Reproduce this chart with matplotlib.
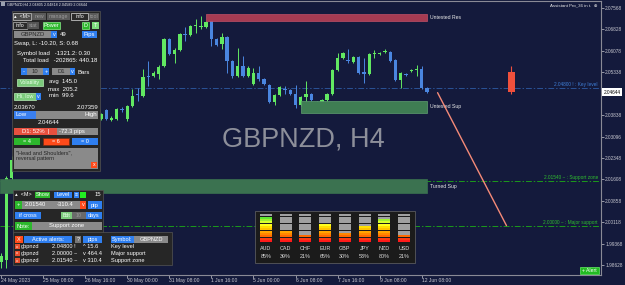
import numpy as np
import matplotlib
matplotlib.use("Agg")
import matplotlib.pyplot as plt
from matplotlib.patches import Rectangle
from matplotlib.transforms import blended_transform_factory

plt.rcParams['font.family'] = ['Liberation Sans', 'DejaVu Sans']

nan = np.nan
# ---------------- data ----------------
opens = [1.98732, 1.98802, 2.01643] + [nan] * 16 + [
    2.03722, 2.04034, 2.03687, 2.03722, 2.04068, 2.03722, 2.04172, 2.04571, 2.04519, 2.05212,
    2.05212, 2.05281, 2.05558, 2.06494, 2.05974, 2.06113, 2.06667, 2.06633, 2.06927, 2.06910,
    2.06910, 2.07118, 2.06494, 2.06321, 2.06563, 2.05732, 2.05212, 2.05558, 2.05212, 2.04935,
    2.05316, 2.05108, 2.04900, 2.04311, 2.04554, 2.04744, 2.04727, 2.04588, 2.04207, 2.04484,
    2.04588, 2.04294, 2.04276, 2.04380, 2.04588, 2.05420, 2.05836, 2.05749, 2.05697, 2.05870,
    2.05350, 2.05281, 2.05957, 2.05974, 2.06026, 2.06043, 2.05766, 2.05073, 2.05281, 2.05385,
    2.05420, 2.05454, 2.04796]
highs = [1.99044, 2.01712, 2.02405] + [nan] * 16 + [
    2.03930, 2.04068, 2.03826, 2.04103, 2.04138, 2.04207, 2.04761, 2.04796, 2.05454, 2.05732,
    2.05385, 2.05593, 2.06529, 2.06529, 2.06182, 2.06702, 2.06910, 2.06979, 2.07187, 2.07291,
    2.07118, 2.07291, 2.06529, 2.06702, 2.06598, 2.05766, 2.06182, 2.05905, 2.05558, 2.05489,
    2.05558, 2.05143, 2.04935, 2.04588, 2.04865, 2.04865, 2.04761, 2.04900, 2.04519, 2.05039,
    2.04623, 2.04346, 2.04415, 2.04623, 2.05454, 2.06009, 2.06043, 2.06147, 2.05905, 2.05905,
    2.05836, 2.06009, 2.06113, 2.06043, 2.06147, 2.06078, 2.05801, 2.05350, 2.05316, 2.05454,
    2.05593, 2.05558, 2.04831]
lows = [1.98524, 1.98524, 2.01574] + [nan] * 16 + [
    2.03687, 2.03687, 2.03653, 2.03687, 2.03964, 2.03653, 2.04138, 2.04346, 2.04484, 2.04865,
    2.05177, 2.05108, 2.05524, 2.05940, 2.05662, 2.06078, 2.06425, 2.06598, 2.06702, 2.06840,
    2.06875, 2.06251, 2.06251, 2.06147, 2.05316, 2.05143, 2.05177, 2.05177, 2.05177, 2.04900,
    2.05039, 2.04900, 2.04276, 2.04207, 2.04519, 2.04588, 2.04554, 2.04103, 2.04172, 2.04346,
    2.04346, 2.04207, 2.04138, 2.04346, 2.04554, 2.05385, 2.05801, 2.05662, 2.05662, 2.05281,
    2.04969, 2.05247, 2.05836, 2.05940, 2.06009, 2.05697, 2.05039, 2.04796, 2.05212, 2.05350,
    2.05212, 2.04761, 2.04623]
closes = [1.98940, 2.01643, 2.02267] + [nan] * 16 + [
    2.03895, 2.03722, 2.03757, 2.04068, 2.04034, 2.04172, 2.04519, 2.04536, 2.05177, 2.05177,
    2.05316, 2.05524, 2.06494, 2.05974, 2.06113, 2.06667, 2.06633, 2.06944, 2.06962, 2.06944,
    2.07083, 2.06494, 2.06286, 2.06563, 2.05732, 2.05212, 2.05558, 2.05212, 2.05489, 2.05316,
    2.05108, 2.04935, 2.04311, 2.04554, 2.04831, 2.04709, 2.04588, 2.04207, 2.04484, 2.04588,
    2.04380, 2.04276, 2.04380, 2.04588, 2.05420, 2.05836, 2.06009, 2.05714, 2.05870, 2.05316,
    2.05281, 2.05974, 2.05991, 2.06009, 2.06061, 2.05732, 2.05073, 2.05316, 2.05247, 2.05420,
    2.05454, 2.04796, 2.04644]

d1_idx = 97
d1_ohlc = [2.05350, 2.05558, 2.04588, 2.04644]

date_idx = [0, 8, 16, 24, 32, 40, 48, 56, 64, 72, 80]
date_labels = ['24 May 2023', '25 May 08:00', '26 May 16:00', '30 May 00:00', '31 May 08:00',
               '1 Jun 16:00', '5 Jun 00:00', '6 Jun 08:00', '7 Jun 16:00', '9 Jun 08:00',
               '12 Jun 08:00']
price_ticks = [2.07568, 2.06828, 2.06078, 2.05338, 2.03838, 2.03096, 2.02348, 2.01608,
               2.00858, 2.00118, 1.99368, 1.98628]
current_price = 2.04644

zone_names = ['Untested Res', 'Untested Sup', 'Turned Sup']
zone_start = [39.0, 57.0, -0.2]
zone_end = [81.0, 81.0, 81.0]
zone_lo = [2.07100, 2.03930, 2.01123]
zone_hi = [2.07360, 2.04346, 2.01608]

level_prices = [2.04800, 2.01540, 2.00000]
level_marks = ['!', '~', '~']
level_names = ['Key level', 'Support zone', 'Major support']

trend_x = [83.0, 96.1]
trend_y = [2.04623, 2.00000]

currencies = ['AUD', 'CAD', 'CHF', 'EUR', 'GBP', 'JPY', 'NZD', 'USD']
strength = [85, 39, 21, 65, 30, 53, 80, 21]

alert_prices = ['2.04800 !', '2.00000 ~', '2.01540 ~']
alert_dist = ['^ 15.6', 'v 464.4', 'v 310.4']
alert_names = ['Key level', 'Major support', 'Support zone']

# ---------------- figure ----------------
W, H = 625, 285
BG = '#141a3c'
fig = plt.figure(figsize=(W / 100, H / 100), dpi=100, facecolor=BG)
ax = fig.add_axes([0, 10 / H, 601 / W, 274 / H], facecolor=BG)
ax.set_xlim(-0.19, 114.07)
ax.set_ylim(1.98282, 2.07811)

GREEN = '#62e862'
BLUE = '#4a86e0'
for i in range(len(opens)):
    o, h, l, c = opens[i], highs[i], lows[i], closes[i]
    if np.isnan(o):
        continue
    col = GREEN if c >= o else BLUE
    ax.vlines(i, l, h, color=col, lw=0.7, zorder=2)
    body = max(abs(c - o), 0.00012)
    ax.bar(i, body, bottom=min(o, c), width=0.64, color=col, lw=0, zorder=2)

# D1 candle
o, h, l, c = d1_ohlc
ax.vlines(d1_idx, l, h, color='#f0503c', lw=0.8, zorder=2)
ax.bar(d1_idx, o - c, bottom=c, width=1.3, color='#f0503c', lw=0, zorder=2)

# zones
zfc = ['#a63b52', '#3f7d53', '#3b7250']
zec = ['#c05068', '#5f9f70', '#3b7250']
for k in range(3):
    ax.add_patch(Rectangle((zone_start[k], zone_lo[k]), zone_end[k] - zone_start[k],
                           zone_hi[k] - zone_lo[k], fc=zfc[k], ec=zec[k], lw=0.5, zorder=3))
    ax.text(zone_end[k] + 0.6, (zone_lo[k] + zone_hi[k]) / 2, zone_names[k], fontsize=3.7,
            color='#e8e8e8', va='center', ha='left', zorder=4)

# levels
lcol = ['#2a5296', '#1c9a1c', '#1c9a1c']
tcol = ['#3f7fd8', '#2fbf2f', '#2fbf2f']
for k in range(3):
    ax.axhline(level_prices[k], color=lcol[k], lw=0.7, ls=(0, (6, 2, 1.5, 2)), zorder=1.5)
    ax.text(0.995, level_prices[k] + 0.0003,
            f'{level_prices[k]:.5f} {level_marks[k]} : {level_names[k]}',
            transform=blended_transform_factory(ax.transAxes, ax.transData),
            fontsize=3.4, color=tcol[k], ha='right', va='bottom', zorder=4)

# trend line
ax.plot(trend_x, trend_y, color='#f58a78', lw=1.0, zorder=4, solid_capstyle='round')

# watermark
ax.text(303 / 601, 1 - 138 / 274, 'GBPNZD, H4', transform=ax.transAxes, fontsize=19.5,
        color='#8d8f9a', ha='center', va='center', zorder=0.5)

# axes styling
ax.spines['left'].set_visible(False)
for s in ['right', 'bottom', 'top']:
    ax.spines[s].set_color('#8a8a96')
    ax.spines[s].set_linewidth(0.8)
ax.yaxis.tick_right()
ax.set_yticks(price_ticks)
ax.set_yticklabels([f'{p:.5f}' for p in price_ticks])
ax.tick_params(axis='y', labelsize=3.4, colors='#c8c8d0', length=2, width=0.5, pad=1)
ax.set_xticks(date_idx)
ax.set_xticklabels(date_labels)
for lab in ax.get_xticklabels():
    lab.set_ha('left')
ax.tick_params(axis='x', labelsize=3.6, colors='#c8c8d0', length=2, width=0.5, pad=0.5)

ax.text(1.004, current_price, f'{current_price:.5f}',
        transform=blended_transform_factory(ax.transAxes, ax.transData),
        fontsize=3.4, color='#000000', ha='left', va='center',
        bbox=dict(boxstyle='square,pad=0.25', fc='white', ec='none'), clip_on=False, zorder=6)

# ---------------- overlay helpers (pixel layout) ----------------
def fx(x):
    return x / W

def fy(y):
    return 1 - y / H

def rect(x0, y0, x1, y1, fc, ec='none', lw=0.5, z=10):
    fig.add_artist(Rectangle((fx(x0), fy(y1)), (x1 - x0) / W, (y1 - y0) / H,
                             transform=fig.transFigure, fc=fc, ec=ec, lw=lw, zorder=z))

def txt(x, y, s, size=4.5, color='white', ha='left', va='center', z=12, **kw):
    fig.text(fx(x), fy(y), s, fontsize=size, color=color, ha=ha, va=va, zorder=z, **kw)

def btn(x0, y0, x1, y1, s, fc, tc='white', ec='none', size=4.3):
    rect(x0, y0, x1, y1, fc, ec=ec, z=11)
    txt((x0 + x1) / 2, (y0 + y1) / 2, s, size=size, color=tc, ha='center')

BLUEB = '#2f7ff0'
GRN = '#2db82d'
GRY = '#8a8a8a'
ORG = '#ff4a1a'

# header texts
rect(1, 2, 5, 6, '#9aa0b0', z=11)
txt(7, 4.5, 'GBPNZD,H4 2.04805 2.04818 2.04589 2.04644', size=2.7, color='#e8e8e8')
txt(597, 5, 'Assistant Pro_36 in t.  \u2295', size=3.2, color='#e8e8e8', ha='right')

# panel 1
rect(12, 11, 100, 171, '#262626', ec='#555555', z=10)
btn(13, 12.5, 31, 20, '\u25b4  <M>', '#4a4a4a', ec='#cccccc', size=3.8)
btn(32, 12.5, 46, 20, 'new', '#5a5a5a', tc='#9a9a9a', size=3.8)
btn(47, 12.5, 70, 20, 'manage', '#5a5a5a', tc='#9a9a9a', size=3.8)
btn(71, 12.5, 88, 20, 'info', '#2a2a2a', ec='#dddddd', size=3.8)
btn(89, 12.5, 99, 20, 'tool', '#5a5a5a', tc='#9a9a9a', size=3.8)
btn(13, 22, 27, 29, 'info', '#2a2a2a', ec='#bbbbbb', size=3.8)
btn(27, 22, 39, 29, 'stat', '#555555', tc='#999999', size=3.8)
btn(43, 22, 60, 29, 'Power', GRN, ec='#88ee88', size=4.0)
btn(82, 22, 89, 29, 'D', GRN, ec='#88ee88', size=4.0)
btn(92, 22, 99, 29, 'T', '#7ddc7d', size=4.0)
btn(14, 31, 51, 38, 'GBPNZD', GRY, tc='#2a2a2a', size=4.2)
btn(51, 31, 57, 38, 'v', BLUEB, size=4.0)
txt(60, 34.5, '49', size=4.3)
btn(82, 31, 97, 38, 'Pips', BLUEB, size=4.2)
txt(14, 44, 'Swap, L: -10.20, S: 0.68', size=4.3)
txt(17, 53, 'Symbol load   -1321.2: 0.30', size=4.3)
txt(23, 61, 'Total load   -202865: 440.18', size=4.3)
btn(21, 68, 27, 75.5, '-', BLUEB, size=4.2)
btn(27, 68, 43, 75.5, '10', GRY, tc='#2a2a2a', size=4.2)
btn(43, 68, 49, 75.5, '+', BLUEB, size=4.2)
btn(52, 68, 70, 75.5, 'D1', GRY, tc='#2a2a2a', size=4.2)
btn(70, 68, 75, 75.5, 'v', BLUEB, size=4.0)
txt(78, 72, 'Bars', size=4.3)
btn(17, 79, 43, 85.5, 'Volatility', '#7cca7c', tc='#e8ffe8', ec='#b8f0b8', size=3.9)
txt(49, 82, 'avg  145.0', size=4.3)
txt(48, 89, 'max  205.2', size=4.3)
btn(14, 93, 36, 99.5, 'Hi, low', '#7cca7c', tc='#e8ffe8', ec='#b8f0b8', size=3.9)
btn(36, 93, 41, 99.5, 'v', BLUEB, size=3.9)
txt(49, 96, 'min  99.6', size=4.3)
txt(14, 107, '2.03670', size=4.3)
txt(98, 107, '2.07359', size=4.3, ha='right')
rect(14, 111, 36, 118.5, '#3a7fef', z=11)
rect(36, 111, 98, 118.5, GRY, z=11)
txt(15, 115, 'Low', size=4.4)
txt(97, 115, 'High', size=4.4, ha='right')
txt(38, 123, '2.04644', size=4.3)
btn(14, 128, 57, 135.5, 'D1: 52%  |', '#e8503f', size=4.2)
rect(57, 128, 98, 135.5, GRY, z=11)
txt(59, 132, '-72.3 pips', size=4.2)
btn(14, 138, 40, 145, '= 4', GRN, size=4.0)
btn(43, 138, 69, 145, '= 6', ORG, ec='#7a2a10', size=4.0)
btn(72, 138, 98, 145, '= 0', BLUEB, size=4.0)
rect(14, 148, 98, 169, GRY, z=11)
txt(16, 150.5, '"Head and Shoulders",\nreversal pattern', size=4.0, color='#262626', va='top',
    linespacing=1.2)
btn(91, 161.5, 97, 168, 'x', ORG, size=3.8)

# panel 2
rect(13, 190, 103, 233, '#262626', ec='#555555', z=10)
txt(15, 194.5, '\u25b4  <M>', size=3.9)
btn(35, 191.5, 50, 198, 'Show', GRN, size=4.0)
btn(54, 191.5, 72, 198, 'Level', BLUEB, size=4.0)
btn(74, 191.5, 78.5, 198, '\u2261', BLUEB, size=3.6)
rect(80, 191.5, 86, 198, '#22ee22', z=11)
txt(101, 194.5, '15', size=4.2, ha='right')
btn(15, 201, 22, 209, '+', GRN, size=4.2)
rect(22, 201, 80, 209, GRY, z=11)
txt(25, 205, '2.01540', size=4.2)
txt(57, 205, '-310.4', size=4.2)
btn(80, 201, 86, 209, 'v', ORG, size=4.0)
btn(88, 201, 102, 209, 'pip', BLUEB, size=4.2)
btn(15, 212, 41, 219, 'if cross', BLUEB, size=4.0)
btn(61, 212, 72, 219, 'Bdt', '#7cca7c', tc='#e8ffe8', size=3.8)
btn(72, 212, 86, 219, '10', '#6a6a6a', tc='#9a9a9a', size=3.8)
btn(86, 212, 102, 219, 'days', BLUEB, size=4.0)
btn(15, 222, 32, 230, 'Note:', GRN, size=4.0)
btn(32, 222, 102, 230, 'Support zone', GRY, size=4.2)

# alerts panel
rect(13, 232, 172, 265, '#262626', ec='#555555', z=10)
btn(15, 236, 23, 243, 'X', ORG, size=4.0)
btn(24, 236, 72, 243, 'Active alerts:', BLUEB, size=4.1)
btn(75, 236, 81, 243, '?', '#777777', size=4.0)
btn(83, 236, 102, 243, 'pips', BLUEB, size=4.1)
btn(111, 236, 134, 243, 'Symbol:', BLUEB, size=4.1)
btn(134, 236, 168, 243, 'GBPNZD', GRY, size=4.1)
for r in range(3):
    yy = 246.5 + r * 7
    btn(15, yy - 2.5, 20, yy + 2.5, 'x', '#e8502f', size=3.0)
    txt(21, yy, 'gbpnzd', size=4.1)
    txt(52, yy, alert_prices[r], size=4.1)
    txt(83, yy, alert_dist[r], size=4.1)
    txt(111, yy, alert_names[r], size=4.1)

# currency strength meter
rect(255, 211, 415, 263, '#1b1b1b', ec='#666666', z=10)
seg_cols = ['#ff1a1a', '#ff3a10', '#ff6a00', '#ff8800', '#ffa600', '#ffc400',
            '#ffe000', '#ffff20', '#d8ff30', '#a0f030', '#60e830', '#22dd22']
nseg = 12
for k, (cur, st) in enumerate(zip(currencies, strength)):
    x0 = 260 + k * 19.7
    filled = int(np.ceil(st / 100 * nseg))
    for s in range(nseg):
        y1 = 242 - s * 2.33
        col = seg_cols[s] if s < filled else '#a0a0a0'
        rect(x0, y1 - 1.95, x0 + 12, y1, col, z=11)
    txt(x0 + 6, 248.5, cur, size=3.9, color='#dddddd', ha='center')
    txt(x0 + 6, 256, f'{st}%', size=3.9, color='#dddddd', ha='center')

# alert button
btn(580, 267, 599, 274, '+ Alert', '#22bb22', ec='#66ee66', size=3.7)

fig.savefig('out.png', dpi=100, facecolor=BG)
